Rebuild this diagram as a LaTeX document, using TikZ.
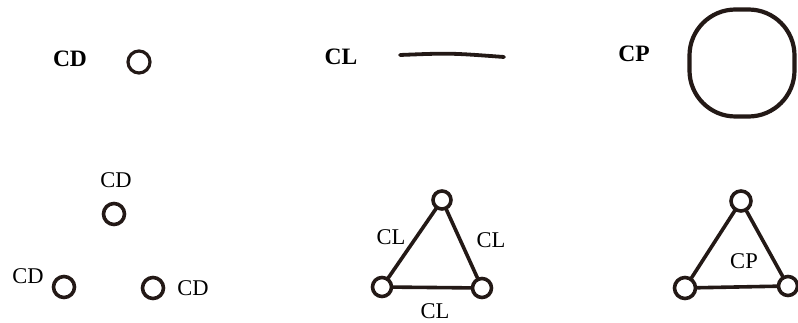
\documentclass[tikz,border=0pt]{standalone}
\usepackage{fontspec}
\setmainfont{Liberation Serif}
\definecolor{ink}{RGB}{35,25,22}
\begin{document}
\begin{tikzpicture}[x=1pt,y=-1pt,
  ink/.style={draw=ink, line width=3.6pt},
  dot/.style={ink, circle, inner sep=0pt, minimum size=#1},
  dot/.default=19pt,
  bigtxt/.style={text=black, font=\fontsize{23.5}{26}\selectfont\bfseries, inner sep=0pt},
  smalltxt/.style={text=black, font=\fontsize{22.5}{25}\selectfont, inner sep=0pt},
  link/.style={ink, line cap=round}
]
\useasboundingbox (0,0) rectangle (798,323);

% top row
\node[bigtxt] (tcd) at (70,59) {CD};
\node[dot=22pt, line width=3.2pt] (tdot) at (139,62) {};
\node[bigtxt] (tcl) at (341,57) {CL};
\coordinate (la) at (400,55);
\coordinate (lb) at (504,57);
\draw[link, line width=3.8pt] (la) .. controls (450,53) .. (lb);
\node[bigtxt] (tcp) at (634,54) {CP};
\node[ink, line width=4.2pt, rounded corners=46pt, minimum width=105pt, minimum height=107pt, inner sep=0pt] (tsq) at (742,63) {};

% bottom left: three points
\node[dot=21pt] (p1) at (114,214) {};
\node[dot=21pt] (p2) at (64,287) {};
\node[dot=21pt] (p3) at (153,288) {};
\node[smalltxt] (c1) at (116,180) {CD};
\node[smalltxt] (c2) at (28,276) {CD};
\node[smalltxt] (c3) at (193,288) {CD};

% bottom middle: triangle of lines
\node[dot=18pt] (m1) at (442,200) {};
\node[dot=19pt] (m2) at (382,287) {};
\node[dot=19pt] (m3) at (482,288) {};
\draw[link] (m1) -- (m2);
\draw[link] (m1) -- (m3);
\draw[link] (m2) -- (m3);
\node[smalltxt] (l1) at (391,237) {CL};
\node[smalltxt] (l2) at (491,240) {CL};
\node[smalltxt] (l3) at (435,311) {CL};

% bottom right: triangle with plane
\node[dot=20pt] (r1) at (741,201) {};
\node[dot=21pt] (r2) at (685,288) {};
\node[dot=19pt] (r3) at (788,286) {};
\draw[link] (r1) -- (r2);
\draw[link] (r1) -- (r3);
\draw[link] (r2) -- (r3);
\node[smalltxt] (rp) at (744,261) {CP};
\end{tikzpicture}
\end{document}
